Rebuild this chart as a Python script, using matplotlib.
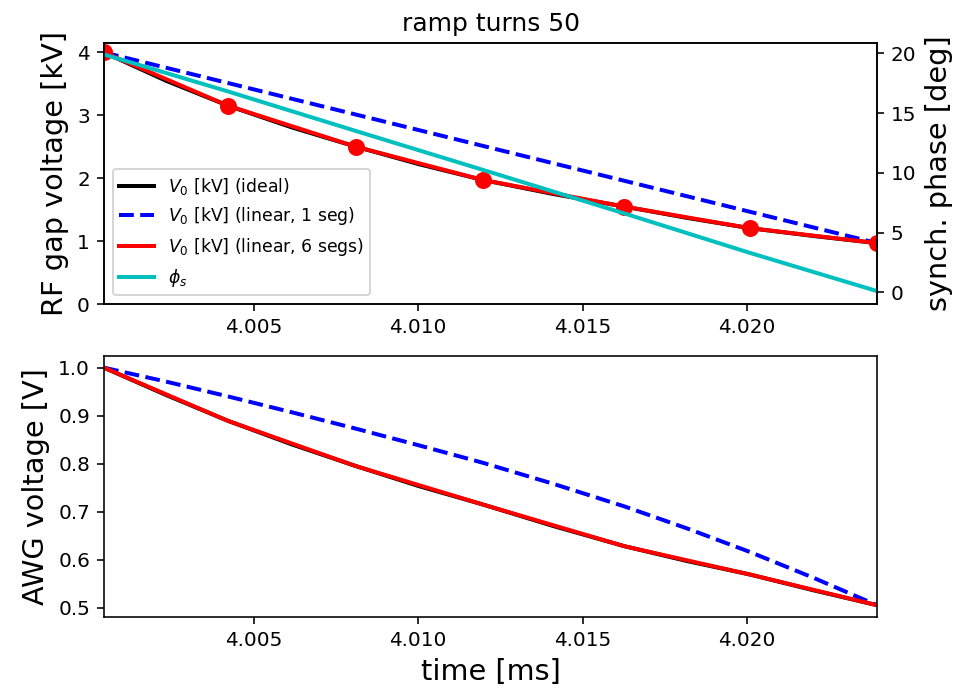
import matplotlib
matplotlib.use("Agg")
import matplotlib.pyplot as plt
from matplotlib.ticker import FormatStrFormatter

# ---- data ----
# segment boundary times [ms]
t_seg = [4.00044, 4.00422, 4.00810, 4.01196, 4.01627, 4.02009, 4.02396]
# curve sample times (boundaries + midpoints) [ms]
t_ideal = [4.00044, 4.00233, 4.00422, 4.00616, 4.00810, 4.01003, 4.01196,
           4.01411, 4.01627, 4.01818, 4.02009, 4.02203, 4.02396]

# RF gap voltage [kV]
v_ideal_kv = [4.00, 3.549, 3.152, 2.807, 2.502, 2.222, 1.973,
              1.749, 1.549, 1.369, 1.206, 1.081, 0.968]
v_seg6_kv = [4.00, 3.152, 2.502, 1.973, 1.549, 1.206, 0.968]
t_seg1 = [4.00044, 4.02396]
v_seg1_kv = [4.00, 0.968]

# synchronous phase [deg]
phi_s = [19.9, 16.8, 13.5, 10.25, 6.6, 3.3, 0.1]

# AWG voltage [V]
awg_ideal = [1.000, 0.943, 0.889, 0.840, 0.795, 0.753, 0.715,
             0.670, 0.628, 0.597, 0.569, 0.536, 0.505]
awg_seg6 = [1.000, 0.889, 0.795, 0.715, 0.628, 0.569, 0.505]
awg_seg1 = [1.000, 0.971, 0.940, 0.907, 0.873, 0.838, 0.802,
            0.758, 0.711, 0.665, 0.616, 0.562, 0.505]

xticks = [4.005, 4.010, 4.015, 4.020]
yticks_top = [0, 1, 2, 3, 4]
yticks_phase = [0, 5, 10, 15, 20]
yticks_awg = [0.5, 0.6, 0.7, 0.8, 0.9, 1.0]

title = "ramp turns 50"

# ---- figure ----
DPI = 144
fig = plt.figure(figsize=(958 / DPI, 693 / DPI), dpi=DPI)
W, H = 958, 693
ax1 = fig.add_axes([104 / W, 1 - 304 / H, 773 / W, 261 / H])
ax3 = fig.add_axes([104 / W, 1 - 616.7 / H, 773 / W, 261 / H])

lab_fs = 14.4
lw = 2

l1, = ax1.plot(t_ideal, v_ideal_kv, color="k", lw=lw, label=r"$V_0$ [kV] (ideal)")
l2, = ax1.plot(t_seg1, v_seg1_kv, color="b", lw=lw, ls="--", label=r"$V_0$ [kV] (linear, 1 seg)")
l3, = ax1.plot(t_seg, v_seg6_kv, color="r", lw=lw, label=r"$V_0$ [kV] (linear, 6 segs)")
ax1.plot(t_seg, v_seg6_kv, color="r", lw=0, marker="o", ms=7.5)
ax1.set_ylim(0, 4.15)
ax1.set_yticks(yticks_top)
ax1.set_ylabel("RF gap voltage [kV]", fontsize=lab_fs)
ax1.set_xlim(t_seg[0], t_seg[-1])
ax1.set_xticks(xticks)
ax1.xaxis.set_major_formatter(FormatStrFormatter("%.3f"))
ax1.set_title(title, fontsize=12.5)

ax2 = ax1.twinx()
l4, = ax2.plot(t_seg, phi_s, color="c", lw=lw, label=r"$\phi_s$")
ax2.set_ylim(-0.98, 20.86)
ax2.set_yticks(yticks_phase)
ax2.set_ylabel("synch. phase [deg]", fontsize=lab_fs)
ax2.legend(handles=[l1, l2, l3, l4], loc="lower left", fontsize=8.6)

ax3.plot(t_ideal, awg_ideal, color="k", lw=lw)
ax3.plot(t_ideal, awg_seg1, color="b", lw=lw, ls="--")
ax3.plot(t_seg, awg_seg6, color="r", lw=lw)
ax3.set_xlim(t_seg[0], t_seg[-1])
ax3.set_xticks(xticks)
ax3.xaxis.set_major_formatter(FormatStrFormatter("%.3f"))
ax3.set_ylim(0.481, 1.025)
ax3.set_yticks(yticks_awg)
ax3.yaxis.set_major_formatter(FormatStrFormatter("%.1f"))
ax3.set_ylabel("AWG voltage [V]", fontsize=lab_fs)
ax3.set_xlabel("time [ms]", fontsize=lab_fs)

fig.savefig("out.png", dpi=DPI)
